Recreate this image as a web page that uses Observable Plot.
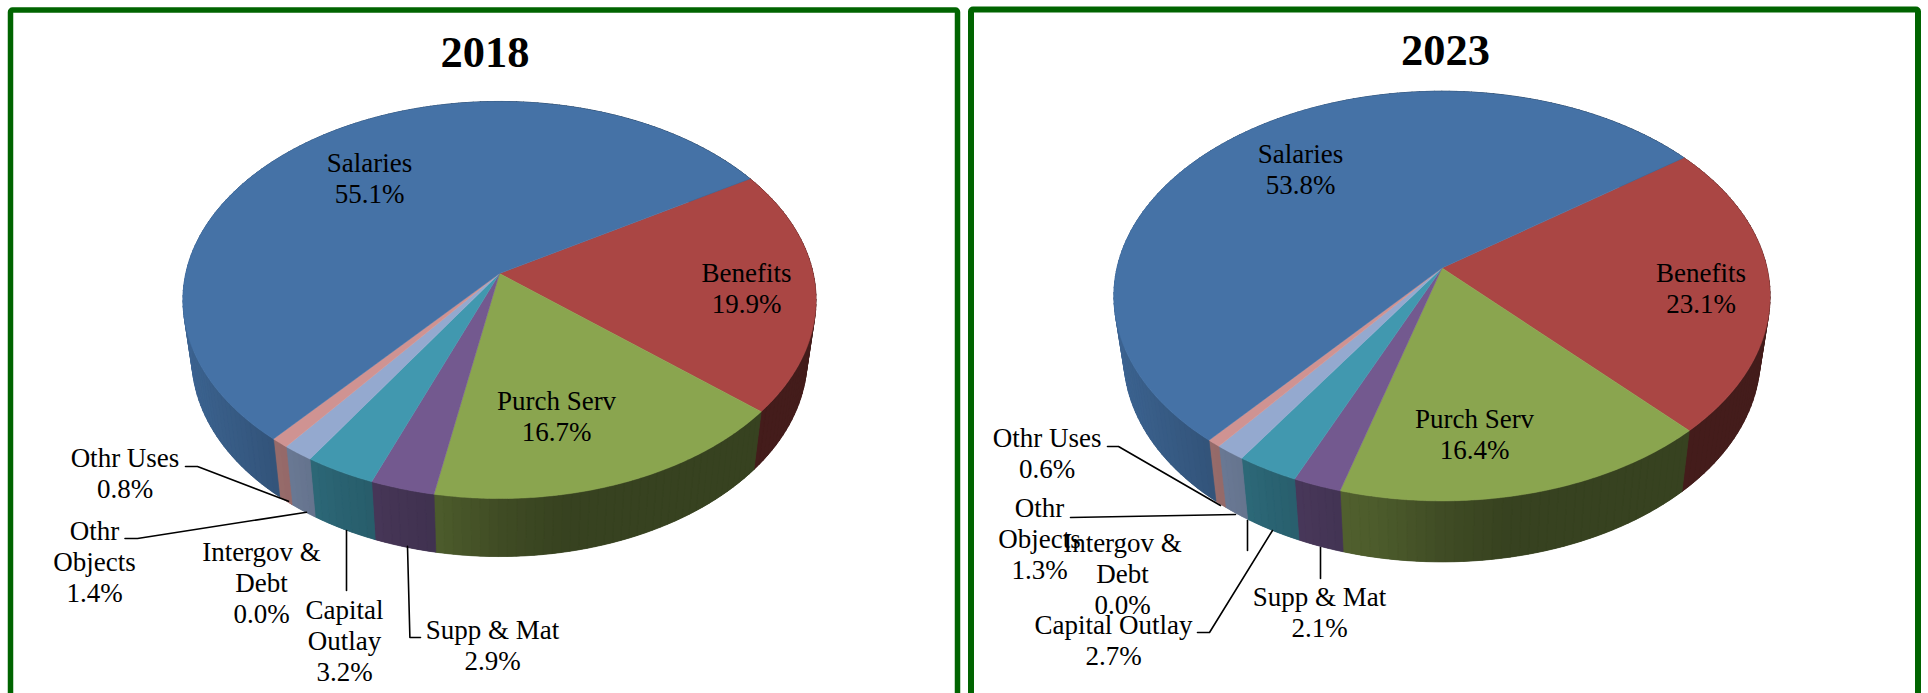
<!DOCTYPE html>
<html>
<head>
<meta charset="utf-8">
<script src="https://cdn.jsdelivr.net/npm/d3@7"></script>
<script src="https://cdn.jsdelivr.net/npm/@observablehq/plot@0.6"></script>
<style>html,body{margin:0;padding:0;background:#fff}svg{display:block}</style>
</head>
<body>
<div id="chart"></div>
<script>
// ---- data ----
const categories = ["Benefits","Purch Serv","Supp & Mat","Capital Outlay","Intergov & Debt","Othr Objects","Othr Uses","Salaries"];
const values2018 = [19.9,16.7,2.9,3.2,0.0,1.4,0.8,55.1];
const values2023 = [23.1,16.4,2.1,2.7,0.0,1.3,0.6,53.8];
const years = ["2018","2023"];
const sliceColors = ["#AA4644","#8AA54F","#73598F","#4198AF","#DB843D","#94A9CF","#CF9392","#4572A6"];

// ---- layout of each 3D pie (perspective-projected disc) ----
const pies = [
  {year:years[0], values:values2018, start:58.7, X0:499, Y0:273, A:313.7, B:195, p:0.1335, rx:316.5, depth:58, s:0.972,
   frame:{x1:10.5,x2:957.5,y1:10,y2:696,w:5.5}, title:[484.5,52],
   names:{"Capital Outlay":"Capital\nOutlay","Intergov & Debt":"Intergov &\nDebt","Othr Objects":"Othr\nObjects"},
   at:{"Salaries":[369,177],"Benefits":[746,287],"Purch Serv":[556,415.5],"Othr Uses":[124.5,472.5],"Othr Objects":[94,561],
       "Intergov & Debt":[261,581.5],"Capital Outlay":[344,640],"Supp & Mat":[492,644]},
   leaders:[[[185,466],[197,466],[288,500.7]],[[124.5,538],[137,538],[306,511.7]],[[346,590],[346,530]],[[420,637],[409.4,637],[407,545.7]]]},
  {year:years[1], values:values2023, start:53.6, X0:1441.5, Y0:267.5, A:325, B:201, p:0.137, rx:328, depth:61, s:0.97,
   frame:{x1:971,x2:1918,y1:9.5,y2:696,w:6}, title:[1445,50],
   names:{"Intergov & Debt":"Intergov &\nDebt","Othr Objects":"Othr\nObjects"},
   at:{"Salaries":[1300,168],"Benefits":[1700.5,287],"Purch Serv":[1474,433],"Othr Uses":[1046.7,452.5],"Othr Objects":[1039,538],
       "Intergov & Debt":[1122,572.5],"Capital Outlay":[1113,639.5],"Supp & Mat":[1319,611.5]},
   leaders:[[[1107,446],[1118,446],[1220,505]],[[1070,517],[1235,514]],[[1247,520],[1247,550]],[[1197,632],[1209,632],[1272,530]],[[1320,578],[1320,547]]]}
];

const shade = d3.scaleLinear().domain([-1,-0.69,-0.5,-0.31,-0.19,0,0.2,1]).range([0.87,0.72,0.64,0.58,0.55,0.46,0.40,0.40]).clamp(true);
function tint(hex,f){const c=d3.rgb(hex);return d3.rgb(c.r*f,c.g*f,c.b*f).formatHex();}
function rimPoint(pie,deg){
  const t=deg*Math.PI/180,u=Math.sin(t),v=-Math.cos(t),w=1-pie.p*v;
  return [pie.X0+pie.A*u/w, pie.Y0+pie.B*v/w];
}
function lowPoint(pie,pt){return [pie.X0+pie.s*(pt[0]-pie.X0), pt[1]+pie.depth];}

const faces=[], bases=[], walls=[], links=[], labels=[], titles=[], frames=[];
pies.forEach(pie=>{
  frames.push(pie.frame);
  titles.push({text:pie.year,x:pie.title[0],y:pie.title[1]});
  let a=pie.start;
  pie.values.forEach((val,i)=>{
    const b=a+val*3.6, name=categories[i], id=pie.year+"-"+i;
    if(val>0){
      const n=Math.max(2,Math.ceil((b-a)/0.5));
      const arc=d3.range(n+1).map(k=>rimPoint(pie,a+(b-a)*k/n));
      const apex=[pie.X0,pie.Y0];
      [apex,...arc,apex].forEach(q=>faces.push({id,x:q[0],y:q[1],c:sliceColors[i]}));
      // whole wall of the slice first, so the shaded strips above it leave no pale seams
      const midFrac=(rimPoint(pie,(a+b)/2)[0]-pie.X0)/pie.rx;
      const baseCol=tint(sliceColors[i],shade(midFrac));
      [...arc,...arc.slice().reverse().map(q=>lowPoint(pie,q)),arc[0]].forEach(q=>bases.push({id,x:q[0],y:q[1],c:baseCol}));
      const stepN=Math.max(1,Math.ceil((b-a)/1.5));
      for(let k=0;k<stepN;k++){
        const t0=rimPoint(pie,a+(b-a)*k/stepN), t1=rimPoint(pie,a+(b-a)*(k+1)/stepN);
        const frac=((t0[0]+t1[0])/2-pie.X0)/pie.rx;
        const col=tint(sliceColors[i],shade(frac));
        const sid=id+"-w"+k;
        [t0,t1,lowPoint(pie,t1),lowPoint(pie,t0),t0].forEach(q=>walls.push({id:sid,x:q[0],y:q[1],c:col}));
      }
    }
    const p=pie.at[name];
    labels.push({text:(pie.names[name]||name)+"\n"+val.toFixed(1)+"%",x:p[0],y:p[1]});
    a=b;
  });
  pie.leaders.forEach((l,j)=>l.forEach(q=>links.push({id:pie.year+"-"+j,x:q[0],y:q[1]})));
});

const font="'Liberation Serif', Cambria, serif";
const chart=Plot.plot({
  width:1928,height:693,margin:0,
  x:{domain:[0,1928],range:[0,1928],axis:null},
  y:{domain:[0,693],range:[0,693],axis:null},
  color:{type:"identity"},
  style:{background:"#fff",fontFamily:font},
  marks:[
    Plot.line(bases,{x:"x",y:"y",z:"id",fill:"c",stroke:"none"}),
    Plot.line(walls,{x:"x",y:"y",z:"id",fill:"c",stroke:"c",strokeWidth:0.7}),
    Plot.line(faces,{x:"x",y:"y",z:"id",fill:"c",stroke:"c",strokeWidth:0.5}),
    Plot.line(links,{x:"x",y:"y",z:"id",stroke:"#000",strokeWidth:1.6}),
    Plot.text(labels,{x:"x",y:"y",text:"text",fontSize:27,lineHeight:1.148,fill:"#000",fontFamily:font}),
    Plot.text(titles,{x:"x",y:"y",text:"text",fontSize:44.5,fontWeight:"bold",fill:"#000",fontFamily:font}),
    Plot.rect(frames,{x1:"x1",x2:"x2",y1:"y1",y2:"y2",stroke:"#006400",strokeWidth:d=>d.w,fill:"none",rx:2})
  ]
});
document.getElementById("chart").appendChild(chart);
</script>
</body>
</html>
